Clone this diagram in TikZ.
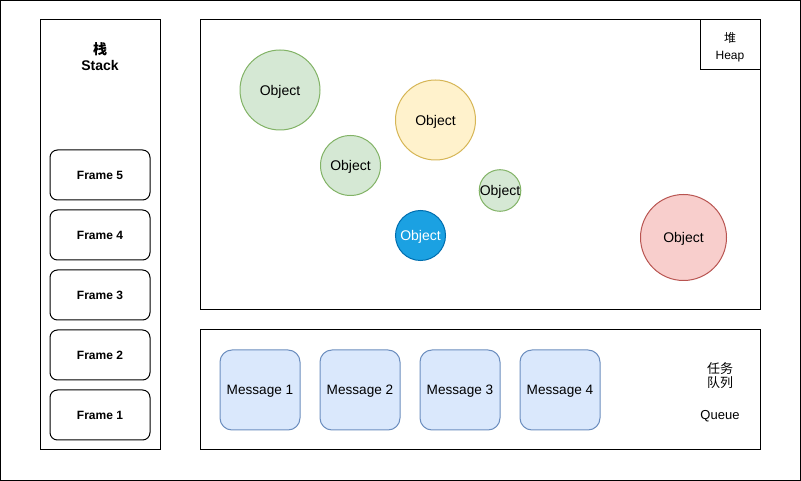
\documentclass[tikz,border=0pt]{standalone}
\usepackage{fontspec}
\setmainfont{Liberation Sans}
\newfontfamily\cjk{Noto Sans CJK SC}
\begin{document}
\begin{tikzpicture}[x=0.75pt,y=-0.75pt,
  box/.style={draw=black,line width=0.75pt,fill=white,rectangle,inner sep=0pt},
  framebox/.style={box,rounded corners=5.6pt,minimum width=75pt,minimum height=37.5pt,font=\fontsize{9}{11}\selectfont\bfseries},
  msgbox/.style={draw=msgstroke,fill=msgfill,line width=0.75pt,rectangle,rounded corners=9pt,minimum width=60pt,minimum height=60pt,inner sep=0pt,text depth=0pt,font=\fontsize{10.2}{12}\selectfont},
  obj/.style={circle,line width=0.75pt,inner sep=0pt,text depth=0pt,font=\fontsize{10.5}{12}\selectfont},
  greenobj/.style={obj,draw=gstroke,fill=gfill},
  txt/.style={align=center,inner sep=0pt}
]
\definecolor{gfill}{HTML}{D5E8D4}
\definecolor{gstroke}{HTML}{82B366}
\definecolor{yfill}{HTML}{FFF2CC}
\definecolor{ystroke}{HTML}{D6B656}
\definecolor{rfill}{HTML}{F8CECC}
\definecolor{rstroke}{HTML}{B85450}
\definecolor{bfill}{HTML}{1BA1E2}
\definecolor{bstroke}{HTML}{006EAF}
\definecolor{msgfill}{HTML}{DAE8FC}
\definecolor{msgstroke}{HTML}{6C8EBF}
\useasboundingbox (0,0) rectangle (801,481);
\node[box,minimum width=600pt,minimum height=360pt] (outer) at (400.5,240.5) {};
% Stack
\node[box,minimum width=90pt,minimum height=322.5pt] (stack) at (100,235) {};
\node[txt,font=\fontsize{10.5}{12}\selectfont\bfseries] (stacklabel) at (100,56.5) {{\cjk\bfseries 栈}\\Stack};
\node[framebox] (f5) at (100,175) {Frame 5};
\node[framebox] (f4) at (100,235) {Frame 4};
\node[framebox] (f3) at (100,295) {Frame 3};
\node[framebox] (f2) at (100,355) {Frame 2};
\node[framebox] (f1) at (100,415) {Frame 1};
% Heap
\node[box,minimum width=420pt,minimum height=217.5pt] (heap) at (480,165) {};
\node[box,minimum width=45pt,minimum height=37.5pt] (heaplabel) at (730,45) {};
\node[txt,font=\fontsize{9}{12.5}\selectfont] (heaptext) at (730,47.5) {{\cjk 堆}\\Heap};
\node[greenobj,minimum size=60pt] (o1) at (280,90) {Object};
\node[greenobj,minimum size=45pt] (o2) at (350.5,165.5) {Object};
\node[obj,draw=ystroke,fill=yfill,minimum size=60pt] (o3) at (435.5,120) {Object};
\node[greenobj,minimum size=30pt] (o4) at (500,190.5) {Object};
\node[obj,draw=bstroke,fill=bfill,text=white,minimum size=37.5pt] (o5) at (420.5,235.5) {Object};
\node[obj,draw=rstroke,fill=rfill,minimum size=64.5pt] (o6) at (683.5,237.5) {Object};
% Queue
\node[box,minimum width=420pt,minimum height=90pt] (queue) at (480,390) {};
\node[msgbox] (m1) at (260,390) {Message 1};
\node[msgbox] (m2) at (360,390) {Message 2};
\node[msgbox] (m3) at (460,390) {Message 3};
\node[msgbox] (m4) at (560,390) {Message 4};
\node[txt,font=\fontsize{9.75}{12}\selectfont] (queuelabel) at (720,375.5) {{\cjk 任务}\\[-1pt]{\cjk 队列}};
\node[txt,font=\fontsize{9.75}{12}\selectfont] (queuetext) at (720,416) {Queue};
\end{tikzpicture}
\end{document}
